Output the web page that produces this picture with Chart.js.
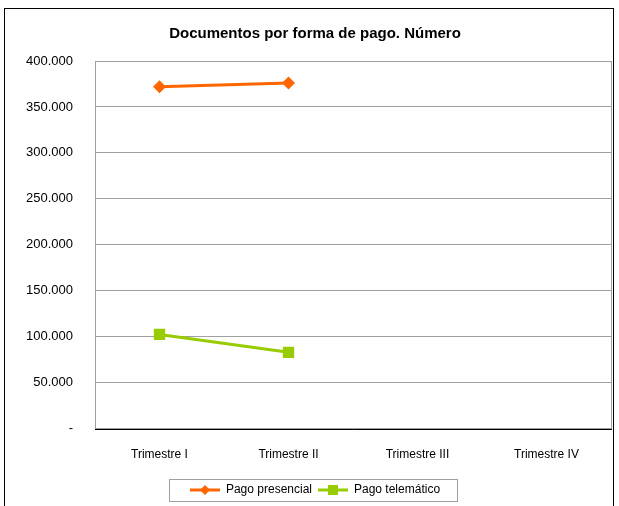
<!DOCTYPE html>
<html><head><meta charset="utf-8">
<script src="https://cdn.jsdelivr.net/npm/chart.js@4/dist/chart.umd.min.js"></script>
<style>
html,body{margin:0;padding:0;background:#fff;}
#wrap{position:absolute;left:0;top:0;width:619px;height:506px;}
#frame{position:absolute;left:4px;top:8px;width:608px;height:510px;border:1px solid #000;}
</style></head><body>
<div id="wrap"><div id="frame"></div><canvas id="c" width="619" height="506"></canvas></div>
<script>
const categories = ['Trimestre I','Trimestre II','Trimestre III','Trimestre IV'];
const pagoPresencial = [372000, 376000, null, null];
const pagoTelematico = [102500, 83000, null, null];
const yTicks = [0,50000,100000,150000,200000,250000,300000,350000,400000];

const FONT = "'Liberation Sans',Arial,sans-serif";

function legendIcon(color, style){
  const c = document.createElement('canvas');
  c.width = 30; c.height = 14;
  const x = c.getContext('2d');
  x.strokeStyle = color; x.lineWidth = 3;
  x.beginPath(); x.moveTo(0,7); x.lineTo(30,7); x.stroke();
  x.fillStyle = color;
  if(style==='diamond'){
    x.beginPath(); x.moveTo(15,2); x.lineTo(20,7); x.lineTo(15,12); x.lineTo(10,7); x.closePath(); x.fill();
  } else {
    x.fillRect(10,2,10,10);
  }
  return c;
}
const icons = [legendIcon('#FF6600','diamond'), legendIcon('#99CC00','square')];

const framePlugin = {
  id:'framePlugin',
  beforeDatasetsDraw(chart){
    const {ctx, chartArea:a} = chart;
    ctx.save();
    ctx.strokeStyle = '#a0a0a0'; ctx.lineWidth = 1;
    ctx.strokeRect(Math.round(a.left)+0.5, Math.round(a.top)+0.5, Math.round(a.right-a.left), Math.round(a.bottom-a.top));
    ctx.strokeStyle = '#000';
    ctx.beginPath(); ctx.moveTo(a.left, Math.round(a.bottom)+0.5); ctx.lineTo(a.right+1, Math.round(a.bottom)+0.5); ctx.stroke();
    ctx.restore();
  },
  afterDraw(chart){
    const lg = chart.legend; if(!lg || !lg.legendHitBoxes) return;
    const hb = lg.legendHitBoxes;
    let l=Infinity,r=-Infinity,t=Infinity,b=-Infinity;
    hb.forEach(h=>{l=Math.min(l,h.left);r=Math.max(r,h.left+h.width);t=Math.min(t,h.top);b=Math.max(b,h.top+h.height);});
    const ctx = chart.ctx; ctx.save();
    ctx.strokeStyle='#a0a0a0'; ctx.lineWidth=1;
    ctx.strokeRect(Math.round(l-21)+0.5, Math.round(t-5)+0.5, Math.round(r-l+38), Math.round(b-t+10));
    ctx.restore();
  }
};

new Chart(document.getElementById('c'), {
  type:'line',
  data:{
    labels: categories,
    datasets:[
      {label:'Pago presencial', data:pagoPresencial, borderColor:'#FF6600', backgroundColor:'#FF6600', borderWidth:3, pointStyle:'rectRot', pointRadius:6.5, pointHoverRadius:6.5, pointBorderWidth:0},
      {label:'Pago telemático', data:pagoTelematico, borderColor:'#99CC00', backgroundColor:'#99CC00', borderWidth:3, pointStyle:'rect', pointRadius:8, pointHoverRadius:8, pointBorderWidth:0}
    ]
  },
  options:{
    responsive:false, animation:false, devicePixelRatio:1,
    layout:{padding:{left:18,right:7,top:12,bottom:0}},
    plugins:{
      title:{display:true, text:'Documentos por forma de pago. Número', color:'#000',
        font:{family:FONT, size:15, weight:'bold'}, padding:{top:13,bottom:18}},
      legend:{position:'bottom', labels:{usePointStyle:true, pointStyleWidth:30, color:'#000', font:{family:FONT,size:12}, padding:6,
        generateLabels(chart){
          return chart.data.datasets.map((d,i)=>({text:d.label, pointStyle:icons[i], fillStyle:d.borderColor, strokeStyle:d.borderColor, lineWidth:0, hidden:false, datasetIndex:i, fontColor:'#000'}));
        }}},
      tooltip:{enabled:false}
    },
    scales:{
      x:{offset:true, grid:{display:false, drawTicks:false}, border:{display:false},
        afterFit(ax){ax.height = ax.height - 3;},
        ticks:{color:'#000', font:{family:FONT,size:12}, padding:19, maxRotation:0}},
      y:{min:0,max:400000, afterBuildTicks(ax){ax.ticks = yTicks.map(v=>({value:v}));},
        afterFit(ax){ax.width = 77;},
        grid:{color:'#a0a0a0', drawTicks:false}, border:{display:false},
        ticks:{color:'#000', font:{family:FONT,size:13}, padding:22,
          callback(v){ return v===0 ? '-' : v.toLocaleString('de-DE'); }}}
    }
  },
  plugins:[framePlugin]
});
</script></body></html>
